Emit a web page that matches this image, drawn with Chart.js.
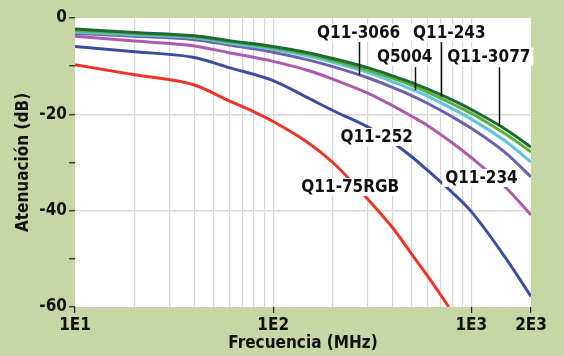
<!DOCTYPE html>
<html>
<head>
<meta charset="utf-8">
<script src="https://cdn.jsdelivr.net/npm/chart.js@4"></script>
<style>
  html, body { margin: 0; padding: 0; background: #c6d6a4; }
  #wrap { width: 564px; height: 356px; }
</style>
</head>
<body>
<div id="wrap"><canvas id="attChart"></canvas></div>
<script>
// Frecuencias (MHz) y atenuación (dB) por cable
const freq = [10, 20, 40, 60, 100, 150, 200, 300, 400, 500, 600, 800, 1000, 1500, 2000];
const q113077 = [-2.3, -3.0, -3.7, -4.7, -5.9, -7.2, -8.4, -10.3, -12.0, -13.4, -14.7, -17.0, -19.0, -23.2, -26.8];
const q11243 = [-2.6, -3.2, -3.9, -4.9, -6.2, -7.5, -8.8, -10.8, -12.5, -14.0, -15.4, -17.8, -19.8, -24.2, -27.8];
const q5004 = [-2.9, -3.5, -4.1, -5.2, -6.5, -7.9, -9.2, -11.3, -13.2, -14.8, -16.2, -18.8, -21.0, -25.7, -29.9];
const q113066 = [-3.2, -3.8, -4.5, -5.6, -7.1, -8.7, -10.1, -12.4, -14.4, -16.1, -17.7, -20.5, -22.9, -28.1, -33.0];
const q11234 = [-3.8, -4.8, -5.8, -7.2, -9.0, -10.9, -12.7, -15.6, -18.2, -20.4, -22.3, -25.9, -29.0, -35.3, -40.9];
const q11252 = [-5.9, -7.0, -8.2, -10.3, -13.0, -16.6, -19.2, -22.6, -25.8, -28.8, -31.6, -36.2, -40.2, -50.0, -57.8];
const freqRGB = [10, 20, 40, 60, 80, 100, 150, 200, 300, 400, 500, 600, 770];
const q1175rgb = [-9.7, -11.8, -13.9, -17.2, -19.5, -21.5, -25.9, -30.0, -37.6, -43.5, -49.0, -53.5, -60.0];

const xLabelValues = [10, 100, 1000, 2000];
const xLabelTexts = ['1E1', '1E2', '1E3', '2E3'];
const yLabelValues = [0, -20, -40, -60];

// Etiquetas de las curvas: texto, frecuencia, dB (centro del texto)
const tagTexts = ['Q11-3066', 'Q11-243', 'Q5004', 'Q11-3077', 'Q11-252', 'Q11-234', 'Q11-75RGB'];
const tagFreq = [270, 774, 461, 1225, 333, 1125, 245];
const tagDb = [-3.1, -3.1, -8.0, -8.0, -24.7, -33.2, -35.1];
// Líneas indicadoras: frecuencia, dB inicio, dB fin
const leaderFreq = [270, 699, 519, 1380];
const leaderFrom = [-5.0, -5.0, -10.2, -10.2];
const leaderTo = [-11.9, -16.3, -15.0, -22.3];

const FONT = '"DejaVu Sans Condensed", "Liberation Sans Narrow", "DejaVu Sans", sans-serif';

function pts(xs, ys) {
    return xs.map((x, i) => ({ x: x, y: ys[i] }));
}

function series(label, xs, ys, color) {
    return {
        label: label,
        data: pts(xs, ys),
        borderColor: color,
        borderWidth: 3,
        pointRadius: 0,
        fill: false,
        cubicInterpolationMode: 'monotone'
    };
}

const bgPlugin = {
    id: 'bg',
    beforeDraw(chart) {
        const { ctx, chartArea: a } = chart;
        ctx.save();
        ctx.fillStyle = '#c6d6a4';
        ctx.fillRect(0, 0, chart.width, chart.height);
        ctx.fillStyle = '#ffffff';
        ctx.fillRect(a.left, a.top, a.right - a.left, a.bottom - a.top);
        ctx.restore();
    }
};

const tagPlugin = {
    id: 'tags',
    afterDatasetsDraw(chart) {
        const { ctx } = chart;
        const xs = chart.scales.x, ys = chart.scales.y;
        ctx.save();
        ctx.strokeStyle = '#111';
        ctx.lineWidth = 1.5;
        leaderFreq.forEach((f, i) => {
            const px = Math.round(xs.getPixelForValue(f)) + 0.5;
            ctx.beginPath();
            ctx.moveTo(px, ys.getPixelForValue(leaderFrom[i]));
            ctx.lineTo(px, ys.getPixelForValue(leaderTo[i]));
            ctx.stroke();
        });
        ctx.font = 'bold 17px ' + FONT;
        ctx.textAlign = 'center';
        ctx.textBaseline = 'middle';
        tagTexts.forEach((t, i) => {
            const px = xs.getPixelForValue(tagFreq[i]);
            const py = ys.getPixelForValue(tagDb[i]);
            const w = ctx.measureText(t).width;
            ctx.fillStyle = '#ffffff';
            ctx.fillRect(px - w / 2 - 3, py - 9, w + 6, 18);
            ctx.fillStyle = '#111';
            ctx.fillText(t, px, py + 1);
        });
        ctx.restore();
    }
};

new Chart(document.getElementById('attChart'), {
    type: 'line',
    data: {
        datasets: [
            series('Q11-3077', freq, q113077, '#1d6b32'),
            series('Q11-243', freq, q11243, '#5eae3e'),
            series('Q5004', freq, q5004, '#5cc5dc'),
            series('Q11-3066', freq, q113066, '#6e62ad'),
            series('Q11-234', freq, q11234, '#ad5aad'),
            series('Q11-252', freq, q11252, '#3a4ea0'),
            series('Q11-75RGB', freqRGB, q1175rgb, '#ee3327')
        ]
    },
    options: {
        responsive: true,
        maintainAspectRatio: false,
        devicePixelRatio: 1,
        animation: false,
        layout: { padding: { left: 0, top: 18, right: 33, bottom: 0 } },
        plugins: { legend: { display: false }, tooltip: { enabled: false } },
        scales: {
            x: {
                type: 'logarithmic',
                min: 10,
                max: 2000,
                afterBuildTicks: (s) => { s.ticks = s.ticks.filter(t => String(t.value)[0] !== '1' || String(t.value).replace(/0+$/, '') === '1'); },
                afterFit: (s) => { s.height = 49; },
                border: { display: false },
                grid: {
                    color: (c) => (c.tick && (c.tick.value === 10 || c.tick.value === 2000)) ? 'rgba(0,0,0,0)' : '#d6d6d6',
                    lineWidth: 1.2,
                    tickColor: (c) => (c.tick && xLabelValues.includes(c.tick.value)) ? '#222' : 'rgba(0,0,0,0)',
                    tickLength: 6,
                    tickWidth: 1.2
                },
                ticks: {
                    autoSkip: false,
                    maxRotation: 0,
                    padding: 2,
                    color: '#111',
                    font: { family: FONT, size: 17, weight: 'bold' },
                    callback: (v) => {
                        const i = xLabelValues.indexOf(v);
                        return i >= 0 ? xLabelTexts[i] : '';
                    }
                },
                title: {
                    display: true,
                    text: 'Frecuencia (MHz)',
                    color: '#111',
                    font: { family: FONT, size: 17, weight: 'bold' },
                    padding: { top: 0, bottom: 2 }
                }
            },
            y: {
                min: -60,
                max: 0,
                afterFit: (s) => { s.width = 75; },
                border: { display: false },
                grid: {
                    color: (c) => (c.tick && (c.tick.value === -20 || c.tick.value === -40)) ? '#d9d9d9' : 'rgba(0,0,0,0)',
                    lineWidth: 1.5,
                    tickColor: '#222',
                    tickLength: 6,
                    tickWidth: 1.2
                },
                ticks: {
                    stepSize: 10,
                    padding: 2,
                    color: '#111',
                    font: { family: FONT, size: 17, weight: 'bold' },
                    callback: (v) => yLabelValues.includes(v) ? String(v) : ''
                },
                title: {
                    display: true,
                    text: 'Atenuación (dB)',
                    color: '#111',
                    font: { family: FONT, size: 17, weight: 'bold' },
                    padding: { top: 13, bottom: 0 }
                }
            }
        }
    },
    plugins: [bgPlugin, tagPlugin]
});
</script>
</body>
</html>
